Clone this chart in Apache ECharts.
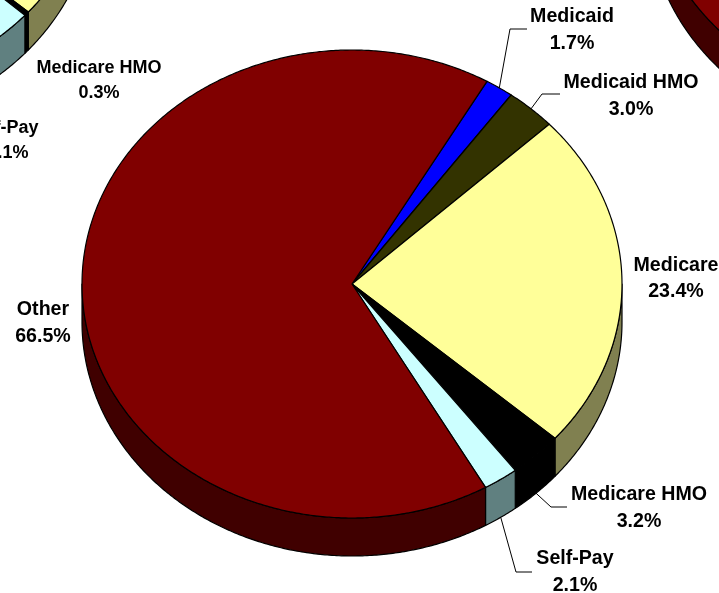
<!DOCTYPE html>
<html>
<head>
<meta charset="utf-8">
<style>html,body{margin:0;padding:0;background:#fff}#chart{width:719px;height:593px}</style>
<script src="https://cdn.jsdelivr.net/npm/echarts@6/dist/echarts.min.js"></script>
</head>
<body>
<div id="chart"></div>
<script>
// Payer mix, three pies side by side; the outer two run off the page.
const categories = ['Medicaid', 'Medicaid HMO', 'Medicare', 'Medicare HMO', 'Self-Pay', 'Other'];
const centerPieValues = [1.7, 3.0, 23.4, 3.2, 2.1, 66.5];
const leftPieValues = [0.9, 1.6, 25.0, 0.3, 12.1, 60.1];
const rightPieValues = [2.0, 3.0, 25.0, 3.0, 3.0, 64.0];

const topColors = ['#0000ff', '#333300', '#ffff99', '#000000', '#ccffff', '#800000'];
const sideColors = ['#000080', '#1a1a00', '#808050', '#000000', '#608080', '#400000'];

// Tilted-pie geometry shared by all three pies.
const RX = 270, RY = 234, DEPTH = 38;
const pies = [
  { values: centerPieValues, cx: 352, cy: 284, start: 30, font: 19.6, lineHeight: 26.5 },
  { values: leftPieValues, cx: -175.5, cy: -141.5, start: 32, font: 18, lineHeight: 25 },
  { values: rightPieValues, cx: 918, cy: -128, start: 30, font: 18, lineHeight: 25 }
];

// Where each label sits, and the elbow path of its leader where it has one.
const labelLayout = {
  '0:Medicaid': { x: 572, y: 30, leader: [[510, 29], [527, 29]] },
  '0:Medicaid HMO': { x: 631, y: 96, leader: [[542, 94], [560, 94]] },
  '0:Medicare': { x: 676, y: 278.5 },
  '0:Medicare HMO': { x: 639, y: 508, leader: [[551, 507], [567, 507]] },
  '0:Self-Pay': { x: 575, y: 572, leader: [[516, 572], [532, 572]] },
  '0:Other': { x: 43, y: 323 },
  '1:Medicare HMO': { x: 99, y: 81 },
  '1:Self-Pay': { x: 3, y: 141 }
};

const sliceRows = [];
pies.forEach((pie, p) => {
  const total = pie.values.reduce((a, b) => a + b, 0);
  let before = 0;
  pie.values.forEach((v, c) => {
    sliceRows.push([v, before / total * 360 + pie.start, v / total * 360, p, c]);
    before += v;
  });
});

function rimPoint(pie, deg) {
  const a = deg * Math.PI / 180;
  return [pie.cx + RX * Math.sin(a), pie.cy - RY * Math.cos(a)];
}

function arc(pie, from, to) {
  const pts = [];
  const steps = Math.max(2, Math.ceil((to - from) * 2));
  for (let i = 0; i <= steps; i++) pts.push(rimPoint(pie, from + (to - from) * i / steps));
  return pts;
}

const edge = { stroke: '#000', lineWidth: 1.2, lineJoin: 'round' };

// Front wall of one slice: the stretches of its arc facing the viewer (90 to 270 degrees).
function renderSide(params, api) {
  const startA = api.value(1), sweep = api.value(2);
  const pie = pies[api.value(3)], c = api.value(4);
  const children = [];
  [0, 360].forEach(turn => {
    const from = Math.max(startA, 90 + turn), to = Math.min(startA + sweep, 270 + turn);
    if (to <= from) return;
    const upper = arc(pie, from, to);
    const lower = upper.map(q => [q[0], q[1] + DEPTH]).reverse();
    children.push({
      type: 'polygon',
      shape: { points: upper.concat(lower) },
      style: Object.assign({ fill: sideColors[c] }, edge)
    });
  });
  return { type: 'group', children };
}

// Top face of one slice, plus its label and leader.
function renderTop(params, api) {
  const value = api.value(0), startA = api.value(1), sweep = api.value(2);
  const p = api.value(3), c = api.value(4);
  const pie = pies[p];
  const children = [{
    type: 'polygon',
    shape: { points: [[pie.cx, pie.cy]].concat(arc(pie, startA, startA + sweep)) },
    style: Object.assign({ fill: topColors[c] }, edge)
  }];
  const name = categories[c];
  const spot = labelLayout[p + ':' + name];
  if (spot) {
    if (spot.leader) {
      const mid = (startA + sweep / 2) % 360;
      const anchor = rimPoint(pie, mid);
      if (mid > 90 && mid < 270) anchor[1] += DEPTH;
      children.push({
        type: 'polyline',
        shape: { points: [anchor].concat(spot.leader) },
        style: { stroke: '#000', lineWidth: 1, fill: 'none' }
      });
    }
    children.push({
      type: 'text',
      x: spot.x,
      y: spot.y,
      style: {
        text: name + '\n' + value.toFixed(1) + '%',
        fill: '#000',
        font: 'bold ' + pie.font + 'px "Liberation Sans", Arial, sans-serif',
        lineHeight: pie.lineHeight,
        align: 'center',
        verticalAlign: 'middle'
      }
    });
  }
  return { type: 'group', children };
}

const chart = echarts.init(document.getElementById('chart'), null, { renderer: 'canvas' });
chart.setOption({
  backgroundColor: '#ffffff',
  animation: false,
  tooltip: { show: false },
  series: [
    { type: 'custom', coordinateSystem: 'none', renderItem: renderSide, data: sliceRows, z: 1, silent: true },
    { type: 'custom', coordinateSystem: 'none', renderItem: renderTop, data: sliceRows, z: 2, silent: true }
  ]
});
</script>
</body>
</html>
